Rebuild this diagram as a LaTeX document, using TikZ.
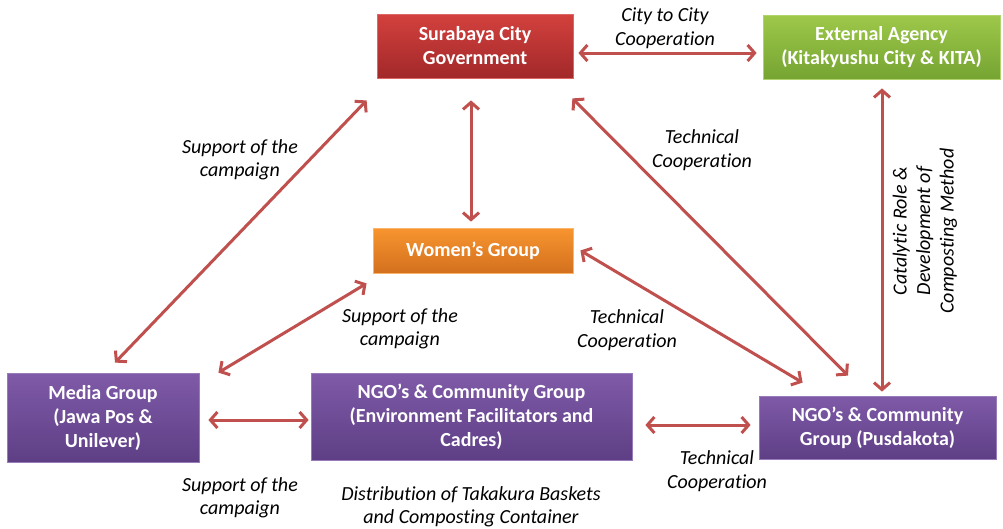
\documentclass[tikz,border=0pt]{standalone}
\usepackage{fontspec}
\setmainfont[Ligatures=NoCommon]{Carlito}
\usetikzlibrary{arrows.meta}
\definecolor{arr}{HTML}{C0504D}
\definecolor{redT}{HTML}{D3413D}
\definecolor{redB}{HTML}{A2282A}
\definecolor{grnT}{HTML}{9DC84A}
\definecolor{grnB}{HTML}{76A432}
\definecolor{orgT}{HTML}{F8952F}
\definecolor{orgB}{HTML}{D3701E}
\definecolor{purT}{HTML}{7F5AA8}
\definecolor{purB}{HTML}{5E3F85}
\tikzset{
  box/.style={inner sep=0pt, align=center, text=white,
    font=\bfseries\fontsize{20}{24}\selectfont, line width=0.8pt},
  redbox/.style={box, top color=redT, bottom color=redB, draw=redT!80!white},
  grnbox/.style={box, top color=grnT, bottom color=grnB, draw=grnT!80!white},
  orgbox/.style={box, top color=orgT, bottom color=orgB, draw=orgT!70!white},
  purbox/.style={box, top color=purT, bottom color=purB, draw=purT!80!white},
  lbl/.style={align=center, inner sep=0pt, font=\itshape\fontsize{20}{23.5}\selectfont},
  link/.style={draw=arr, line width=3pt, {Straight Barb[length=7pt,width=16pt]}-{Straight Barb[length=7pt,width=16pt]}}
}
\begin{document}
\begin{tikzpicture}[x=1pt,y=-1pt]
\useasboundingbox (0,0) rectangle (1003,528);
% boxes
\node[redbox, minimum width=196pt, minimum height=64pt] (sura) at (475,46) {Surabaya City\\Government};
\node[grnbox, minimum width=237pt, minimum height=64pt] (ext) at (881.5,47) {External Agency\\(Kitakyushu City \& KITA)};
\node[orgbox, minimum width=200pt, minimum height=45pt] (women) at (473,250.5) {Women’s Group};
\node[purbox, minimum width=192pt, minimum height=89pt] (media) at (103,417.5) {Media Group\\(Jawa Pos \&\\Unilever)};
\node[purbox, minimum width=321pt, minimum height=87pt] (ngo) at (471.5,416.5) {NGO’s \& Community Group\\(Environment Facilitators and\\Cadres)};
\node[purbox, minimum width=237pt, minimum height=63pt] (pus) at (877.5,427.5) {NGO’s \& Community\\Group (Pusdakota)};
% connectors
\draw[link] ([xshift=5pt,yshift=-7pt]sura.east) -- ([xshift=-6pt,yshift=-6pt]ext.west);
\draw[link] ([xshift=-4pt,yshift=-22pt]sura.south) -- ([xshift=-2pt,yshift=6pt]women.north);
\draw[link] ([xshift=-10pt,yshift=-22pt]sura.south west) -- ([xshift=12pt,yshift=10pt]media.north);
\draw[link] ([xshift=-1pt,yshift=-20pt]sura.south east) -- ([xshift=-29.5pt,yshift=20pt]pus.north);
\draw[link] ([xshift=0.5pt,yshift=-9pt]ext.south) -- ([xshift=4.5pt,yshift=4pt]pus.north);
\draw[link] ([xshift=-6pt,yshift=-10pt]women.south west) -- ([xshift=19pt,yshift=0pt]media.north east);
\draw[link] ([xshift=7pt,yshift=0pt]women.east) -- ([xshift=44pt,yshift=13pt]pus.north west);
\draw[link] ([xshift=9pt,yshift=-2.5pt]media.east) -- ([xshift=-2pt,yshift=-3.5pt]ngo.west);
\draw[link] ([xshift=13pt,yshift=-8.5pt]ngo.east) -- ([xshift=-8pt,yshift=2.5pt]pus.west);
% labels
\node[lbl] (l1) at (665,28) {City to City\\Cooperation};
\node[lbl] (l2) at (240,160) {Support of the\\campaign};
\node[lbl] (l3) at (702,150) {Technical\\Cooperation};
\node[lbl] (l4) at (400,329) {Support of the\\campaign};
\node[lbl] (l5) at (627,330) {Technical\\Cooperation};
\node[lbl, rotate=90] (l6) at (925,231) {Catalytic Role \&\\Development of\\Composting Method};
\node[lbl] (l7) at (717,471) {Technical\\Cooperation};
\node[lbl] (l8) at (240,498) {Support of the\\campaign};
\node[lbl] (l9) at (471,507) {Distribution of Takakura Baskets\\and Composting Container};
\end{tikzpicture}
\end{document}
